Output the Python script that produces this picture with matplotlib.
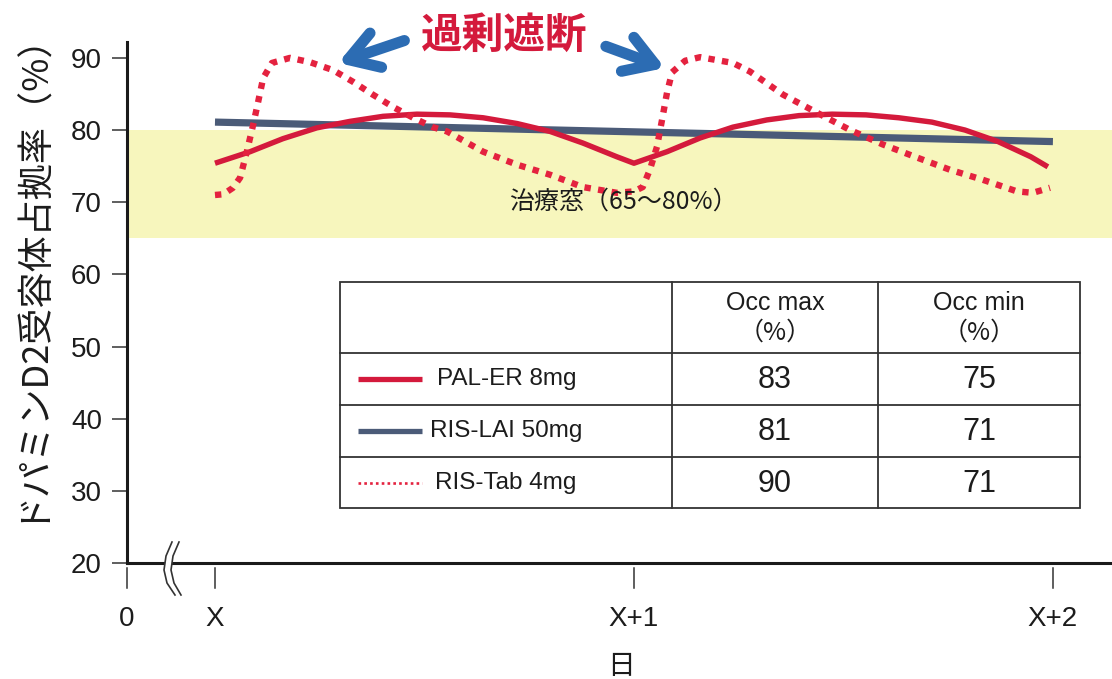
import matplotlib
matplotlib.use("Agg")
import matplotlib.pyplot as plt
from matplotlib.lines import Line2D
from matplotlib.patches import Rectangle, Polygon

plt.rcParams['font.family'] = ['Liberation Sans', 'Noto Sans CJK JP', 'DejaVu Sans']

# ---- data -------------------------------------------------------------
# time in days after dose day X (0 = X, 1 = X+1, 2 = X+2); occupancy in %
pal_t = [0.0, 0.084, 0.162, 0.243, 0.322, 0.401, 0.482, 0.561, 0.640, 0.721,
         0.800, 0.878, 0.959, 1.0,
         1.079, 1.158, 1.236, 1.317, 1.394, 1.473, 1.554, 1.632, 1.711, 1.790,
         1.869, 1.947, 1.988]
pal_occ = [75.4, 77.0, 78.8, 80.3, 81.2, 81.9, 82.2, 82.1, 81.7, 80.9,
           79.8, 78.2, 76.3, 75.4,
           77.0, 78.9, 80.4, 81.4, 82.0, 82.2, 82.1, 81.7, 81.1, 80.0,
           78.4, 76.3, 74.9]

lai_t = [0.0, 2.0]
lai_occ = [81.1, 78.4]

tab_t = [0.0, 0.02, 0.043, 0.060, 0.076, 0.091, 0.103, 0.115, 0.136, 0.179,
         0.227, 0.282, 0.329, 0.377, 0.425, 0.473, 0.520, 0.554, 0.640, 0.721,
         0.800, 0.878, 0.959, 1.0,
         1.021, 1.038, 1.055, 1.067, 1.079, 1.091, 1.122, 1.158, 1.236, 1.277,
         1.356, 1.437, 1.516, 1.594, 1.675, 1.754, 1.833, 1.914, 1.952, 1.993]
tab_occ = [71.0, 71.1, 72.0, 73.4, 77.0, 80.7, 83.9, 87.2, 89.3, 90.0,
           89.4, 88.3, 86.7, 84.9, 83.2, 81.7, 80.4, 79.8, 77.0, 75.2,
           73.8, 72.1, 71.3, 71.5,
           72.1, 74.5, 77.7, 81.4, 85.2, 88.0, 89.6, 90.1, 89.3, 88.1,
           84.9, 82.4, 80.0, 78.0, 76.2, 74.5, 73.1, 71.5, 71.3, 72.0]

window = (65, 80)
x_ticks = [-0.21, 0.0, 1.0, 2.0]
x_labels = ['0', 'X', 'X+1', 'X+2']
y_ticks = [20, 30, 40, 50, 60, 70, 80, 90]

drug_names = ['PAL-ER 8mg', 'RIS-LAI 50mg', 'RIS-Tab 4mg']
occ_max = [83, 81, 90]
occ_min = [75, 71, 71]

# ---- style ------------------------------------------------------------
RED = '#d41a3c'
RED_DOT = '#e4223f'
SLATE = '#4b5b78'
BAND = '#f7f6bd'
BLUE = '#2c6cb3'
INK = '#1c1c1c'
CJK = ['Noto Sans CJK JP', 'Liberation Sans']

W, H = 1112, 679
fig = plt.figure(figsize=(W / 100, H / 100), dpi=100)


def fx(x):
    return x / W


def fy(y):
    return 1 - y / H


ax = fig.add_axes([fx(127), fy(563), fx(1112) - fx(127), fy(42) - fy(563)])
ax.set_xlim(-0.21, 2.141)
ax.set_ylim(20, 92.2)

ax.axhspan(window[0], window[1], color=BAND, lw=0, zorder=0)

ax.plot(lai_t, lai_occ, color=SLATE, lw=5.2, solid_capstyle='butt', zorder=2)
ax.plot(pal_t, pal_occ, color=RED, lw=3.9, solid_capstyle='butt',
        solid_joinstyle='round', zorder=3)
ax.plot(tab_t, tab_occ, color=RED_DOT, lw=4.6, linestyle=(0, (1, 1.15)),
        dash_capstyle='butt', zorder=4)

ax.text(0.975, 70.1, '治療窓（65〜80%）', family=CJK, fontsize=18,
        color=INK, ha='center', va='center', zorder=5)

# axes frame
for side in ('top', 'right'):
    ax.spines[side].set_visible(False)
ax.spines['left'].set_linewidth(2.2)
ax.spines['bottom'].set_linewidth(2.2)
ax.spines['left'].set_color('#1a1a1a')
ax.spines['bottom'].set_color('#1a1a1a')

ax.set_yticks(y_ticks)
ax.tick_params(axis='y', direction='out', length=11, width=1.1,
               color='#333333', labelsize=20, labelcolor=INK, pad=7)
ax.set_xticks(x_ticks)
ax.set_xticklabels(x_labels)
ax.tick_params(axis='x', length=0, labelsize=20, labelcolor=INK, pad=31)

# x tick marks detached from the axis line
for xt in x_ticks:
    ax.plot([xt, xt], [-0.010, -0.048], transform=ax.get_xaxis_transform(),
            color='#333333', lw=1.1, clip_on=False)

# axis break mark on the x axis
brk_y = [542, 556, 570, 583, 595]
brk_x1 = [172, 166, 164, 167, 175]
brk_x2 = [179, 173, 171, 174, 181]
fig.add_artist(Polygon(
    [(fx(a), fy(b)) for a, b in zip(brk_x1, brk_y)] +
    [(fx(a), fy(b)) for a, b in zip(brk_x2[::-1], brk_y[::-1])],
    closed=True, transform=fig.transFigure, fc='white', ec='none', zorder=10))
for xs in (brk_x1, brk_x2):
    fig.add_artist(Line2D([fx(a) for a in xs], [fy(b) for b in brk_y],
                          transform=fig.transFigure, color='#333333',
                          lw=1.2, zorder=11))

# axis titles
fig.text(fx(29), fy(266), 'ドパミンD2受容体占拠率（%）', family=CJK,
         fontsize=26, rotation=90, ha='center', va='center', color=INK)
fig.text(fx(621), fy(666), '日', family=CJK, fontsize=20,
         ha='center', va='center', color=INK)

# over-blockade call-out
fig.text(fx(504), fy(36), '過剰遮断', family=CJK, fontsize=30,
         fontweight='bold', color=RED, ha='center', va='center')
arrow_kw = dict(arrowstyle='->,head_length=1.05,head_width=0.65', lw=8,
                color=BLUE, shrinkA=0, shrinkB=0, mutation_scale=20)
ax.annotate('', xy=(0.294, 89.3), xytext=(0.452, 92.4),
            arrowprops=arrow_kw, annotation_clip=False)
ax.annotate('', xy=(1.074, 88.6), xytext=(0.933, 91.6),
            arrowprops=arrow_kw, annotation_clip=False)

# ---- summary table with legend keys ----------------------------------
tl, tr = 340, 1080
col_x = [tl, 672, 878, tr]
row_y = [282, 353, 405, 457, 508]
fig.add_artist(Rectangle((fx(tl), fy(row_y[-1])), fx(tr) - fx(tl),
                         fy(row_y[0]) - fy(row_y[-1]),
                         transform=fig.transFigure, fc='white',
                         ec='#333333', lw=1.3, zorder=6))
for yy in row_y[1:-1]:
    fig.add_artist(Line2D([fx(tl), fx(tr)], [fy(yy), fy(yy)],
                          transform=fig.transFigure, color='#333333',
                          lw=1.3, zorder=7))
for xx in col_x[1:-1]:
    fig.add_artist(Line2D([fx(xx), fx(xx)], [fy(row_y[0]), fy(row_y[-1])],
                          transform=fig.transFigure, color='#333333',
                          lw=1.3, zorder=7))

for cx, head in zip([(col_x[1] + col_x[2]) / 2, (col_x[2] + col_x[3]) / 2],
                    ['Occ max', 'Occ min']):
    fig.text(fx(cx), fy(303), head, fontsize=18, ha='center', va='center',
             color=INK, zorder=8)
    fig.text(fx(cx), fy(333), '（%）', family=CJK, fontsize=18,
             ha='center', va='center', color=INK, zorder=8)

key_styles = [dict(color=RED, lw=3.8, solid_capstyle='butt'),
              dict(color=SLATE, lw=3.8, solid_capstyle='butt'),
              dict(color=RED_DOT, lw=1.9, linestyle=(0, (1, 1.2)),
                   dash_capstyle='butt')]
name_x = [437, 430, 435]
for i, name in enumerate(drug_names):
    cy = (row_y[i + 1] + row_y[i + 2]) / 2
    fig.add_artist(Line2D([fx(358), fx(422)], [fy(cy), fy(cy)],
                          transform=fig.transFigure, zorder=8,
                          **key_styles[i]))
    fig.text(fx(name_x[i]), fy(cy), name, fontsize=17.5, ha='left',
             va='center', color=INK, zorder=8)
    fig.text(fx((col_x[1] + col_x[2]) / 2), fy(cy + 1), str(occ_max[i]),
             fontsize=22, ha='center', va='center', color=INK, zorder=8)
    fig.text(fx((col_x[2] + col_x[3]) / 2), fy(cy + 1), str(occ_min[i]),
             fontsize=22, ha='center', va='center', color=INK, zorder=8)

fig.savefig('out.png', dpi=100, facecolor='white')
